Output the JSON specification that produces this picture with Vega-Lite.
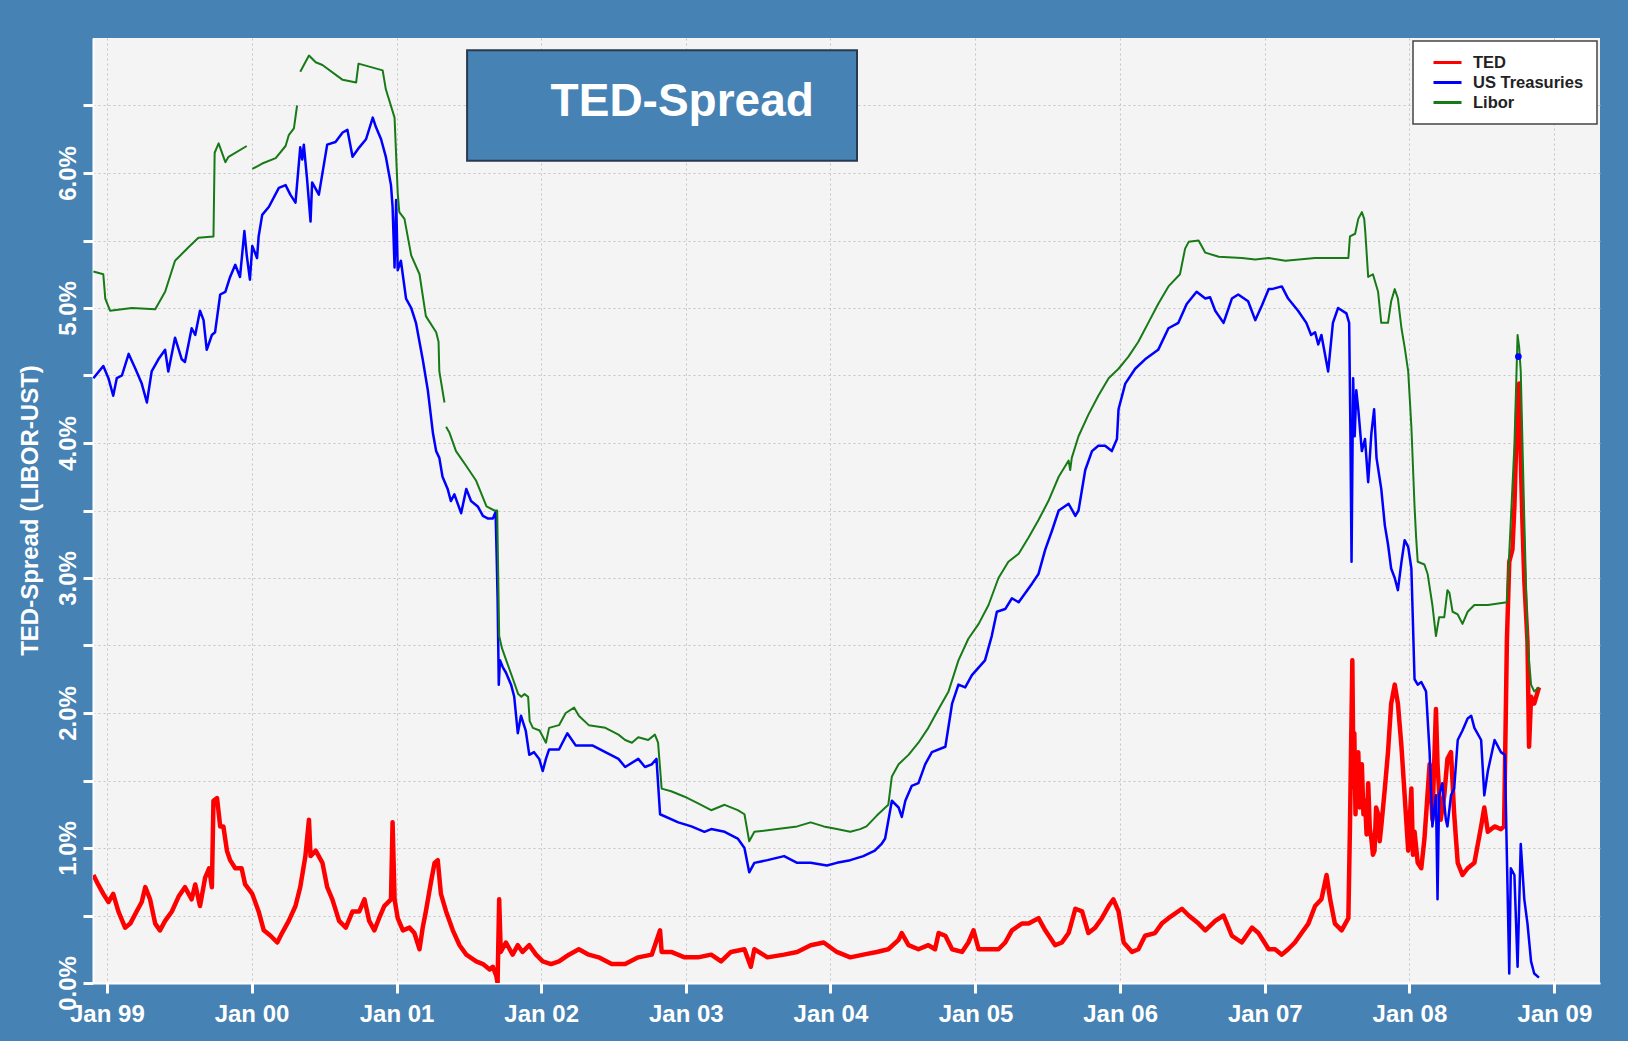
{
  "$schema": "https://vega.github.io/schema/vega-lite/v6.json",
  "width": 1507,
  "height": 945,
  "autosize": {"type": "none"},
  "padding": {"left": 93, "top": 38, "right": 28, "bottom": 58},
  "background": "#4682b4",
  "config": {
    "view": {"fill": "#f4f4f4", "stroke": null},
    "font": "Liberation Sans",
    "axis": {
      "labelFont": "Liberation Sans", "labelFontWeight": "bold", "labelFontSize": 24, "labelColor": "#ffffff",
      "tickColor": "#ffffff", "tickWidth": 3, "tickSize": 10,
      "domainColor": "#ffffff", "domainWidth": 2,
      "gridColor": "#c4c4c4", "gridDash": [2, 3], "gridWidth": 1,
      "titleFont": "Liberation Sans", "titleFontWeight": "bold", "titleFontSize": 24, "titleColor": "#ffffff"
    },
    "legend": {
      "orient": "top-right", "offset": 3, "fillColor": "#ffffff", "strokeColor": "#444444", "strokeWidth": 1.5, "padding": 13,
      "labelFont": "Liberation Sans", "labelFontWeight": "bold", "labelFontSize": 16.5, "labelColor": "#222222",
      "symbolType": "M-2,0L2,0", "symbolSize": 196, "symbolStrokeWidth": 3, "rowPadding": 3,
      "labelOffset": 17, "symbolOffset": 13
    }
  },
  "datasets": {
    "ted": [
      {"date":"1998-11-28","value":0.80,"series":"TED"},{"date":"1998-12-10","value":0.73,"series":"TED"},{"date":"1998-12-23","value":0.66,"series":"TED"},{"date":"1999-01-05","value":0.60,"series":"TED"},{"date":"1999-01-17","value":0.66,"series":"TED"},{"date":"1999-01-30","value":0.53,"series":"TED"},{"date":"1999-02-16","value":0.41,"series":"TED"},{"date":"1999-03-01","value":0.44,"series":"TED"},{"date":"1999-03-17","value":0.53,"series":"TED"},{"date":"1999-03-30","value":0.60,"series":"TED"},{"date":"1999-04-08","value":0.71,"series":"TED"},{"date":"1999-04-20","value":0.62,"series":"TED"},{"date":"1999-05-03","value":0.44,"series":"TED"},{"date":"1999-05-15","value":0.39,"series":"TED"},{"date":"1999-05-28","value":0.46,"series":"TED"},{"date":"1999-06-14","value":0.53,"series":"TED"},{"date":"1999-07-01","value":0.64,"series":"TED"},{"date":"1999-07-17","value":0.71,"series":"TED"},{"date":"1999-08-03","value":0.62,"series":"TED"},{"date":"1999-08-12","value":0.73,"series":"TED"},{"date":"1999-08-24","value":0.57,"series":"TED"},{"date":"1999-09-06","value":0.78,"series":"TED"},{"date":"1999-09-16","value":0.85,"series":"TED"},{"date":"1999-09-23","value":0.71,"series":"TED"},{"date":"1999-09-27","value":1.35,"series":"TED"},{"date":"1999-10-06","value":1.37,"series":"TED"},{"date":"1999-10-14","value":1.16,"series":"TED"},{"date":"1999-10-22","value":1.16,"series":"TED"},{"date":"1999-10-31","value":0.98,"series":"TED"},{"date":"1999-11-08","value":0.91,"series":"TED"},{"date":"1999-11-21","value":0.85,"series":"TED"},{"date":"1999-12-07","value":0.85,"series":"TED"},{"date":"1999-12-16","value":0.73,"series":"TED"},{"date":"2000-01-03","value":0.66,"series":"TED"},{"date":"2000-01-19","value":0.53,"series":"TED"},{"date":"2000-02-01","value":0.39,"series":"TED"},{"date":"2000-02-18","value":0.35,"series":"TED"},{"date":"2000-03-06","value":0.30,"series":"TED"},{"date":"2000-03-18","value":0.37,"series":"TED"},{"date":"2000-04-04","value":0.46,"series":"TED"},{"date":"2000-04-21","value":0.57,"series":"TED"},{"date":"2000-05-03","value":0.71,"series":"TED"},{"date":"2000-05-16","value":0.94,"series":"TED"},{"date":"2000-05-25","value":1.21,"series":"TED"},{"date":"2000-05-29","value":0.94,"series":"TED"},{"date":"2000-06-11","value":0.98,"series":"TED"},{"date":"2000-06-28","value":0.89,"series":"TED"},{"date":"2000-07-10","value":0.71,"series":"TED"},{"date":"2000-07-23","value":0.62,"series":"TED"},{"date":"2000-08-09","value":0.46,"series":"TED"},{"date":"2000-08-26","value":0.41,"series":"TED"},{"date":"2000-09-12","value":0.53,"series":"TED"},{"date":"2000-09-29","value":0.53,"series":"TED"},{"date":"2000-10-12","value":0.62,"series":"TED"},{"date":"2000-10-24","value":0.46,"series":"TED"},{"date":"2000-11-06","value":0.39,"series":"TED"},{"date":"2000-11-18","value":0.48,"series":"TED"},{"date":"2000-12-01","value":0.57,"series":"TED"},{"date":"2000-12-18","value":0.62,"series":"TED"},{"date":"2000-12-22","value":1.19,"series":"TED"},{"date":"2000-12-27","value":0.62,"series":"TED"},{"date":"2001-01-04","value":0.48,"series":"TED"},{"date":"2001-01-17","value":0.39,"series":"TED"},{"date":"2001-02-03","value":0.41,"series":"TED"},{"date":"2001-02-15","value":0.37,"series":"TED"},{"date":"2001-02-28","value":0.25,"series":"TED"},{"date":"2001-03-08","value":0.41,"series":"TED"},{"date":"2001-03-16","value":0.53,"series":"TED"},{"date":"2001-03-29","value":0.75,"series":"TED"},{"date":"2001-04-07","value":0.89,"series":"TED"},{"date":"2001-04-15","value":0.91,"series":"TED"},{"date":"2001-04-23","value":0.66,"series":"TED"},{"date":"2001-05-06","value":0.53,"series":"TED"},{"date":"2001-05-23","value":0.39,"series":"TED"},{"date":"2001-06-09","value":0.28,"series":"TED"},{"date":"2001-06-26","value":0.21,"series":"TED"},{"date":"2001-07-21","value":0.16,"series":"TED"},{"date":"2001-08-07","value":0.14,"series":"TED"},{"date":"2001-08-24","value":0.10,"series":"TED"},{"date":"2001-09-01","value":0.12,"series":"TED"},{"date":"2001-09-10","value":0.05,"series":"TED"},{"date":"2001-09-13","value":0.0,"series":"TED"},{"date":"2001-09-17","value":0.62,"series":"TED"},{"date":"2001-09-21","value":0.23,"series":"TED"},{"date":"2001-10-04","value":0.30,"series":"TED"},{"date":"2001-10-21","value":0.21,"series":"TED"},{"date":"2001-11-03","value":0.28,"series":"TED"},{"date":"2001-11-15","value":0.23,"series":"TED"},{"date":"2001-12-02","value":0.28,"series":"TED"},{"date":"2001-12-19","value":0.21,"series":"TED"},{"date":"2002-01-05","value":0.16,"series":"TED"},{"date":"2002-01-26","value":0.14,"series":"TED"},{"date":"2002-02-15","value":0.16,"series":"TED"},{"date":"2002-03-12","value":0.21,"series":"TED"},{"date":"2002-04-06","value":0.25,"series":"TED"},{"date":"2002-05-01","value":0.21,"series":"TED"},{"date":"2002-05-26","value":0.19,"series":"TED"},{"date":"2002-06-28","value":0.14,"series":"TED"},{"date":"2002-08-01","value":0.14,"series":"TED"},{"date":"2002-09-03","value":0.19,"series":"TED"},{"date":"2002-10-07","value":0.21,"series":"TED"},{"date":"2002-10-28","value":0.39,"series":"TED"},{"date":"2002-11-01","value":0.23,"series":"TED"},{"date":"2002-11-25","value":0.23,"series":"TED"},{"date":"2002-12-29","value":0.19,"series":"TED"},{"date":"2003-02-01","value":0.19,"series":"TED"},{"date":"2003-03-06","value":0.21,"series":"TED"},{"date":"2003-03-31","value":0.16,"series":"TED"},{"date":"2003-04-25","value":0.23,"series":"TED"},{"date":"2003-05-29","value":0.25,"series":"TED"},{"date":"2003-06-14","value":0.12,"series":"TED"},{"date":"2003-06-23","value":0.25,"series":"TED"},{"date":"2003-07-26","value":0.19,"series":"TED"},{"date":"2003-09-06","value":0.21,"series":"TED"},{"date":"2003-10-09","value":0.23,"series":"TED"},{"date":"2003-11-12","value":0.28,"series":"TED"},{"date":"2003-12-15","value":0.30,"series":"TED"},{"date":"2004-01-17","value":0.23,"series":"TED"},{"date":"2004-02-20","value":0.19,"series":"TED"},{"date":"2004-03-24","value":0.21,"series":"TED"},{"date":"2004-04-27","value":0.23,"series":"TED"},{"date":"2004-05-26","value":0.25,"series":"TED"},{"date":"2004-06-21","value":0.32,"series":"TED"},{"date":"2004-06-29","value":0.37,"series":"TED"},{"date":"2004-07-16","value":0.28,"series":"TED"},{"date":"2004-08-10","value":0.25,"series":"TED"},{"date":"2004-09-04","value":0.28,"series":"TED"},{"date":"2004-09-21","value":0.25,"series":"TED"},{"date":"2004-09-30","value":0.37,"series":"TED"},{"date":"2004-10-17","value":0.35,"series":"TED"},{"date":"2004-11-03","value":0.25,"series":"TED"},{"date":"2004-11-28","value":0.23,"series":"TED"},{"date":"2004-12-14","value":0.30,"series":"TED"},{"date":"2004-12-27","value":0.39,"series":"TED"},{"date":"2005-01-09","value":0.25,"series":"TED"},{"date":"2005-02-03","value":0.25,"series":"TED"},{"date":"2005-02-28","value":0.25,"series":"TED"},{"date":"2005-03-17","value":0.30,"series":"TED"},{"date":"2005-04-03","value":0.39,"series":"TED"},{"date":"2005-04-28","value":0.44,"series":"TED"},{"date":"2005-05-15","value":0.44,"series":"TED"},{"date":"2005-06-09","value":0.48,"series":"TED"},{"date":"2005-06-26","value":0.39,"series":"TED"},{"date":"2005-07-21","value":0.28,"series":"TED"},{"date":"2005-08-07","value":0.30,"series":"TED"},{"date":"2005-08-24","value":0.37,"series":"TED"},{"date":"2005-09-10","value":0.55,"series":"TED"},{"date":"2005-09-27","value":0.53,"series":"TED"},{"date":"2005-10-13","value":0.37,"series":"TED"},{"date":"2005-10-30","value":0.41,"series":"TED"},{"date":"2005-11-16","value":0.48,"series":"TED"},{"date":"2005-12-03","value":0.57,"series":"TED"},{"date":"2005-12-15","value":0.62,"series":"TED"},{"date":"2005-12-28","value":0.53,"series":"TED"},{"date":"2006-01-10","value":0.30,"series":"TED"},{"date":"2006-01-31","value":0.23,"series":"TED"},{"date":"2006-02-16","value":0.25,"series":"TED"},{"date":"2006-03-05","value":0.35,"series":"TED"},{"date":"2006-03-30","value":0.37,"series":"TED"},{"date":"2006-04-16","value":0.44,"series":"TED"},{"date":"2006-05-03","value":0.48,"series":"TED"},{"date":"2006-06-06","value":0.55,"series":"TED"},{"date":"2006-06-23","value":0.50,"series":"TED"},{"date":"2006-07-18","value":0.44,"series":"TED"},{"date":"2006-08-04","value":0.39,"series":"TED"},{"date":"2006-08-29","value":0.46,"series":"TED"},{"date":"2006-09-19","value":0.50,"series":"TED"},{"date":"2006-10-10","value":0.35,"series":"TED"},{"date":"2006-11-04","value":0.30,"series":"TED"},{"date":"2006-11-30","value":0.41,"series":"TED"},{"date":"2006-12-16","value":0.37,"series":"TED"},{"date":"2007-01-11","value":0.25,"series":"TED"},{"date":"2007-01-27","value":0.25,"series":"TED"},{"date":"2007-02-13","value":0.21,"series":"TED"},{"date":"2007-03-01","value":0.25,"series":"TED"},{"date":"2007-03-18","value":0.30,"series":"TED"},{"date":"2007-04-04","value":0.37,"series":"TED"},{"date":"2007-04-21","value":0.44,"series":"TED"},{"date":"2007-05-08","value":0.57,"series":"TED"},{"date":"2007-05-24","value":0.62,"series":"TED"},{"date":"2007-06-06","value":0.80,"series":"TED"},{"date":"2007-06-15","value":0.62,"series":"TED"},{"date":"2007-06-27","value":0.44,"series":"TED"},{"date":"2007-07-14","value":0.39,"series":"TED"},{"date":"2007-07-31","value":0.48,"series":"TED"},{"date":"2007-08-04","value":1.16,"series":"TED"},{"date":"2007-08-10","value":2.39,"series":"TED"},{"date":"2007-08-13","value":1.45,"series":"TED"},{"date":"2007-08-15","value":1.85,"series":"TED"},{"date":"2007-08-18","value":1.25,"series":"TED"},{"date":"2007-08-21","value":1.60,"series":"TED"},{"date":"2007-08-25","value":1.71,"series":"TED"},{"date":"2007-08-29","value":1.30,"series":"TED"},{"date":"2007-09-03","value":1.62,"series":"TED"},{"date":"2007-09-07","value":1.25,"series":"TED"},{"date":"2007-09-11","value":1.35,"series":"TED"},{"date":"2007-09-15","value":1.10,"series":"TED"},{"date":"2007-09-19","value":1.48,"series":"TED"},{"date":"2007-09-23","value":1.15,"series":"TED"},{"date":"2007-09-27","value":1.07,"series":"TED"},{"date":"2007-10-01","value":0.95,"series":"TED"},{"date":"2007-10-05","value":0.98,"series":"TED"},{"date":"2007-10-09","value":1.30,"series":"TED"},{"date":"2007-10-14","value":1.25,"series":"TED"},{"date":"2007-10-18","value":1.05,"series":"TED"},{"date":"2007-10-22","value":1.16,"series":"TED"},{"date":"2007-10-31","value":1.44,"series":"TED"},{"date":"2007-11-08","value":1.71,"series":"TED"},{"date":"2007-11-16","value":2.07,"series":"TED"},{"date":"2007-11-25","value":2.21,"series":"TED"},{"date":"2007-12-03","value":2.07,"series":"TED"},{"date":"2007-12-12","value":1.75,"series":"TED"},{"date":"2007-12-20","value":1.39,"series":"TED"},{"date":"2007-12-29","value":0.98,"series":"TED"},{"date":"2008-01-06","value":1.44,"series":"TED"},{"date":"2008-01-10","value":0.95,"series":"TED"},{"date":"2008-01-14","value":1.12,"series":"TED"},{"date":"2008-01-22","value":0.89,"series":"TED"},{"date":"2008-01-31","value":0.85,"series":"TED"},{"date":"2008-02-08","value":1.07,"series":"TED"},{"date":"2008-02-21","value":1.62,"series":"TED"},{"date":"2008-02-28","value":1.21,"series":"TED"},{"date":"2008-03-08","value":2.03,"series":"TED"},{"date":"2008-03-12","value":1.62,"series":"TED"},{"date":"2008-03-20","value":1.21,"series":"TED"},{"date":"2008-03-29","value":1.39,"series":"TED"},{"date":"2008-04-06","value":1.66,"series":"TED"},{"date":"2008-04-15","value":1.71,"series":"TED"},{"date":"2008-04-23","value":1.25,"series":"TED"},{"date":"2008-05-02","value":0.89,"series":"TED"},{"date":"2008-05-14","value":0.80,"series":"TED"},{"date":"2008-05-27","value":0.85,"series":"TED"},{"date":"2008-06-13","value":0.89,"series":"TED"},{"date":"2008-06-30","value":1.16,"series":"TED"},{"date":"2008-07-08","value":1.30,"series":"TED"},{"date":"2008-07-17","value":1.12,"series":"TED"},{"date":"2008-08-03","value":1.16,"series":"TED"},{"date":"2008-08-19","value":1.14,"series":"TED"},{"date":"2008-08-27","value":1.16,"series":"TED"},{"date":"2008-09-03","value":2.53,"series":"TED"},{"date":"2008-09-09","value":3.12,"series":"TED"},{"date":"2008-09-17","value":3.21,"series":"TED"},{"date":"2008-09-22","value":3.53,"series":"TED"},{"date":"2008-09-30","value":4.35,"series":"TED"},{"date":"2008-10-04","value":4.44,"series":"TED"},{"date":"2008-10-08","value":3.89,"series":"TED"},{"date":"2008-10-12","value":3.44,"series":"TED"},{"date":"2008-10-17","value":2.98,"series":"TED"},{"date":"2008-10-25","value":2.53,"series":"TED"},{"date":"2008-10-29","value":1.75,"series":"TED"},{"date":"2008-11-03","value":2.12,"series":"TED"},{"date":"2008-11-11","value":2.07,"series":"TED"},{"date":"2008-11-23","value":2.19,"series":"TED"}
    ],
    "ust": [
      {"date":"1998-11-28","value":4.48,"series":"US Treasuries"},{"date":"1998-12-23","value":4.57,"series":"US Treasuries"},{"date":"1999-01-05","value":4.48,"series":"US Treasuries"},{"date":"1999-01-17","value":4.35,"series":"US Treasuries"},{"date":"1999-01-26","value":4.48,"series":"US Treasuries"},{"date":"1999-02-08","value":4.50,"series":"US Treasuries"},{"date":"1999-02-25","value":4.66,"series":"US Treasuries"},{"date":"1999-03-14","value":4.55,"series":"US Treasuries"},{"date":"1999-03-30","value":4.44,"series":"US Treasuries"},{"date":"1999-04-12","value":4.30,"series":"US Treasuries"},{"date":"1999-04-24","value":4.53,"series":"US Treasuries"},{"date":"1999-05-11","value":4.62,"series":"US Treasuries"},{"date":"1999-05-28","value":4.69,"series":"US Treasuries"},{"date":"1999-06-05","value":4.53,"series":"US Treasuries"},{"date":"1999-06-22","value":4.78,"series":"US Treasuries"},{"date":"1999-07-09","value":4.62,"series":"US Treasuries"},{"date":"1999-07-17","value":4.60,"series":"US Treasuries"},{"date":"1999-08-03","value":4.85,"series":"US Treasuries"},{"date":"1999-08-12","value":4.80,"series":"US Treasuries"},{"date":"1999-08-24","value":4.98,"series":"US Treasuries"},{"date":"1999-09-02","value":4.91,"series":"US Treasuries"},{"date":"1999-09-10","value":4.69,"series":"US Treasuries"},{"date":"1999-09-23","value":4.80,"series":"US Treasuries"},{"date":"1999-10-01","value":4.82,"series":"US Treasuries"},{"date":"1999-10-14","value":5.10,"series":"US Treasuries"},{"date":"1999-10-27","value":5.12,"series":"US Treasuries"},{"date":"1999-11-08","value":5.23,"series":"US Treasuries"},{"date":"1999-11-21","value":5.32,"series":"US Treasuries"},{"date":"1999-12-03","value":5.23,"series":"US Treasuries"},{"date":"1999-12-14","value":5.57,"series":"US Treasuries"},{"date":"1999-12-20","value":5.39,"series":"US Treasuries"},{"date":"1999-12-28","value":5.21,"series":"US Treasuries"},{"date":"2000-01-03","value":5.46,"series":"US Treasuries"},{"date":"2000-01-15","value":5.37,"series":"US Treasuries"},{"date":"2000-01-19","value":5.53,"series":"US Treasuries"},{"date":"2000-01-28","value":5.69,"series":"US Treasuries"},{"date":"2000-02-14","value":5.75,"series":"US Treasuries"},{"date":"2000-03-10","value":5.89,"series":"US Treasuries"},{"date":"2000-03-27","value":5.91,"series":"US Treasuries"},{"date":"2000-04-08","value":5.84,"series":"US Treasuries"},{"date":"2000-04-21","value":5.78,"series":"US Treasuries"},{"date":"2000-05-03","value":6.19,"series":"US Treasuries"},{"date":"2000-05-08","value":6.10,"series":"US Treasuries"},{"date":"2000-05-12","value":6.21,"series":"US Treasuries"},{"date":"2000-05-20","value":5.96,"series":"US Treasuries"},{"date":"2000-05-29","value":5.64,"series":"US Treasuries"},{"date":"2000-06-02","value":5.93,"series":"US Treasuries"},{"date":"2000-06-19","value":5.84,"series":"US Treasuries"},{"date":"2000-07-10","value":6.21,"series":"US Treasuries"},{"date":"2000-07-31","value":6.23,"series":"US Treasuries"},{"date":"2000-08-18","value":6.30,"series":"US Treasuries"},{"date":"2000-08-30","value":6.32,"series":"US Treasuries"},{"date":"2000-09-12","value":6.12,"series":"US Treasuries"},{"date":"2000-09-29","value":6.19,"series":"US Treasuries"},{"date":"2000-10-16","value":6.25,"series":"US Treasuries"},{"date":"2000-11-02","value":6.41,"series":"US Treasuries"},{"date":"2000-11-10","value":6.34,"series":"US Treasuries"},{"date":"2000-11-23","value":6.25,"series":"US Treasuries"},{"date":"2000-12-05","value":6.12,"series":"US Treasuries"},{"date":"2000-12-18","value":5.91,"series":"US Treasuries"},{"date":"2000-12-22","value":5.75,"series":"US Treasuries"},{"date":"2000-12-27","value":5.30,"series":"US Treasuries"},{"date":"2000-12-31","value":5.80,"series":"US Treasuries"},{"date":"2001-01-04","value":5.28,"series":"US Treasuries"},{"date":"2001-01-12","value":5.35,"series":"US Treasuries"},{"date":"2001-01-25","value":5.07,"series":"US Treasuries"},{"date":"2001-02-07","value":5.00,"series":"US Treasuries"},{"date":"2001-02-19","value":4.89,"series":"US Treasuries"},{"date":"2001-03-08","value":4.62,"series":"US Treasuries"},{"date":"2001-03-21","value":4.39,"series":"US Treasuries"},{"date":"2001-04-03","value":4.07,"series":"US Treasuries"},{"date":"2001-04-11","value":3.94,"series":"US Treasuries"},{"date":"2001-04-19","value":3.89,"series":"US Treasuries"},{"date":"2001-04-27","value":3.75,"series":"US Treasuries"},{"date":"2001-05-10","value":3.66,"series":"US Treasuries"},{"date":"2001-05-18","value":3.57,"series":"US Treasuries"},{"date":"2001-05-27","value":3.62,"series":"US Treasuries"},{"date":"2001-06-13","value":3.48,"series":"US Treasuries"},{"date":"2001-06-26","value":3.66,"series":"US Treasuries"},{"date":"2001-07-08","value":3.57,"series":"US Treasuries"},{"date":"2001-07-25","value":3.53,"series":"US Treasuries"},{"date":"2001-08-07","value":3.46,"series":"US Treasuries"},{"date":"2001-08-20","value":3.44,"series":"US Treasuries"},{"date":"2001-09-01","value":3.44,"series":"US Treasuries"},{"date":"2001-09-08","value":3.49,"series":"US Treasuries"},{"date":"2001-09-11","value":3.12,"series":"US Treasuries"},{"date":"2001-09-13","value":2.85,"series":"US Treasuries"},{"date":"2001-09-16","value":2.21,"series":"US Treasuries"},{"date":"2001-09-19","value":2.39,"series":"US Treasuries"},{"date":"2001-09-26","value":2.34,"series":"US Treasuries"},{"date":"2001-10-04","value":2.30,"series":"US Treasuries"},{"date":"2001-10-17","value":2.21,"series":"US Treasuries"},{"date":"2001-10-25","value":2.12,"series":"US Treasuries"},{"date":"2001-11-03","value":1.85,"series":"US Treasuries"},{"date":"2001-11-11","value":1.98,"series":"US Treasuries"},{"date":"2001-11-23","value":1.87,"series":"US Treasuries"},{"date":"2001-12-02","value":1.69,"series":"US Treasuries"},{"date":"2001-12-14","value":1.71,"series":"US Treasuries"},{"date":"2001-12-27","value":1.66,"series":"US Treasuries"},{"date":"2002-01-05","value":1.57,"series":"US Treasuries"},{"date":"2002-01-13","value":1.66,"series":"US Treasuries"},{"date":"2002-01-21","value":1.73,"series":"US Treasuries"},{"date":"2002-02-15","value":1.73,"series":"US Treasuries"},{"date":"2002-03-08","value":1.85,"series":"US Treasuries"},{"date":"2002-03-29","value":1.76,"series":"US Treasuries"},{"date":"2002-05-10","value":1.76,"series":"US Treasuries"},{"date":"2002-06-12","value":1.71,"series":"US Treasuries"},{"date":"2002-07-15","value":1.66,"series":"US Treasuries"},{"date":"2002-08-01","value":1.60,"series":"US Treasuries"},{"date":"2002-09-03","value":1.66,"series":"US Treasuries"},{"date":"2002-09-20","value":1.60,"series":"US Treasuries"},{"date":"2002-10-07","value":1.62,"series":"US Treasuries"},{"date":"2002-10-19","value":1.66,"series":"US Treasuries"},{"date":"2002-10-28","value":1.25,"series":"US Treasuries"},{"date":"2002-12-13","value":1.19,"series":"US Treasuries"},{"date":"2003-01-15","value":1.16,"series":"US Treasuries"},{"date":"2003-02-17","value":1.12,"series":"US Treasuries"},{"date":"2003-03-06","value":1.14,"series":"US Treasuries"},{"date":"2003-04-09","value":1.12,"series":"US Treasuries"},{"date":"2003-05-12","value":1.07,"series":"US Treasuries"},{"date":"2003-05-29","value":1.00,"series":"US Treasuries"},{"date":"2003-06-10","value":0.82,"series":"US Treasuries"},{"date":"2003-06-23","value":0.89,"series":"US Treasuries"},{"date":"2003-07-26","value":0.91,"series":"US Treasuries"},{"date":"2003-09-06","value":0.94,"series":"US Treasuries"},{"date":"2003-10-09","value":0.89,"series":"US Treasuries"},{"date":"2003-11-12","value":0.89,"series":"US Treasuries"},{"date":"2003-12-23","value":0.87,"series":"US Treasuries"},{"date":"2004-01-17","value":0.89,"series":"US Treasuries"},{"date":"2004-02-20","value":0.91,"series":"US Treasuries"},{"date":"2004-03-24","value":0.94,"series":"US Treasuries"},{"date":"2004-04-22","value":0.98,"series":"US Treasuries"},{"date":"2004-05-09","value":1.03,"series":"US Treasuries"},{"date":"2004-05-18","value":1.07,"series":"US Treasuries"},{"date":"2004-06-04","value":1.35,"series":"US Treasuries"},{"date":"2004-06-21","value":1.30,"series":"US Treasuries"},{"date":"2004-06-29","value":1.23,"series":"US Treasuries"},{"date":"2004-07-08","value":1.35,"series":"US Treasuries"},{"date":"2004-07-24","value":1.46,"series":"US Treasuries"},{"date":"2004-08-10","value":1.48,"series":"US Treasuries"},{"date":"2004-08-27","value":1.62,"series":"US Treasuries"},{"date":"2004-09-13","value":1.71,"series":"US Treasuries"},{"date":"2004-10-17","value":1.75,"series":"US Treasuries"},{"date":"2004-11-03","value":2.07,"series":"US Treasuries"},{"date":"2004-11-19","value":2.21,"series":"US Treasuries"},{"date":"2004-12-06","value":2.19,"series":"US Treasuries"},{"date":"2004-12-23","value":2.28,"series":"US Treasuries"},{"date":"2005-01-25","value":2.39,"series":"US Treasuries"},{"date":"2005-02-11","value":2.57,"series":"US Treasuries"},{"date":"2005-02-24","value":2.75,"series":"US Treasuries"},{"date":"2005-03-17","value":2.77,"series":"US Treasuries"},{"date":"2005-04-03","value":2.85,"series":"US Treasuries"},{"date":"2005-04-20","value":2.82,"series":"US Treasuries"},{"date":"2005-05-24","value":2.96,"series":"US Treasuries"},{"date":"2005-06-09","value":3.03,"series":"US Treasuries"},{"date":"2005-06-26","value":3.21,"series":"US Treasuries"},{"date":"2005-07-13","value":3.35,"series":"US Treasuries"},{"date":"2005-07-30","value":3.50,"series":"US Treasuries"},{"date":"2005-08-24","value":3.55,"series":"US Treasuries"},{"date":"2005-09-10","value":3.46,"series":"US Treasuries"},{"date":"2005-09-18","value":3.50,"series":"US Treasuries"},{"date":"2005-10-05","value":3.80,"series":"US Treasuries"},{"date":"2005-10-22","value":3.94,"series":"US Treasuries"},{"date":"2005-11-07","value":3.98,"series":"US Treasuries"},{"date":"2005-11-24","value":3.98,"series":"US Treasuries"},{"date":"2005-12-11","value":3.94,"series":"US Treasuries"},{"date":"2005-12-24","value":4.03,"series":"US Treasuries"},{"date":"2005-12-28","value":4.25,"series":"US Treasuries"},{"date":"2006-01-14","value":4.44,"series":"US Treasuries"},{"date":"2006-02-08","value":4.55,"series":"US Treasuries"},{"date":"2006-03-05","value":4.62,"series":"US Treasuries"},{"date":"2006-04-07","value":4.69,"series":"US Treasuries"},{"date":"2006-05-03","value":4.85,"series":"US Treasuries"},{"date":"2006-05-28","value":4.89,"series":"US Treasuries"},{"date":"2006-06-18","value":5.03,"series":"US Treasuries"},{"date":"2006-07-13","value":5.12,"series":"US Treasuries"},{"date":"2006-08-04","value":5.07,"series":"US Treasuries"},{"date":"2006-08-16","value":5.08,"series":"US Treasuries"},{"date":"2006-08-29","value":4.98,"series":"US Treasuries"},{"date":"2006-09-19","value":4.89,"series":"US Treasuries"},{"date":"2006-10-10","value":5.07,"series":"US Treasuries"},{"date":"2006-10-26","value":5.10,"series":"US Treasuries"},{"date":"2006-11-20","value":5.05,"series":"US Treasuries"},{"date":"2006-12-08","value":4.91,"series":"US Treasuries"},{"date":"2006-12-25","value":5.02,"series":"US Treasuries"},{"date":"2007-01-11","value":5.14,"series":"US Treasuries"},{"date":"2007-01-19","value":5.14,"series":"US Treasuries"},{"date":"2007-02-13","value":5.16,"series":"US Treasuries"},{"date":"2007-03-01","value":5.07,"series":"US Treasuries"},{"date":"2007-03-26","value":4.98,"series":"US Treasuries"},{"date":"2007-04-16","value":4.89,"series":"US Treasuries"},{"date":"2007-04-28","value":4.80,"series":"US Treasuries"},{"date":"2007-05-08","value":4.82,"series":"US Treasuries"},{"date":"2007-05-16","value":4.73,"series":"US Treasuries"},{"date":"2007-05-24","value":4.80,"series":"US Treasuries"},{"date":"2007-06-10","value":4.53,"series":"US Treasuries"},{"date":"2007-06-22","value":4.89,"series":"US Treasuries"},{"date":"2007-07-05","value":5.00,"series":"US Treasuries"},{"date":"2007-07-26","value":4.96,"series":"US Treasuries"},{"date":"2007-08-02","value":4.89,"series":"US Treasuries"},{"date":"2007-08-05","value":4.12,"series":"US Treasuries"},{"date":"2007-08-08","value":3.12,"series":"US Treasuries"},{"date":"2007-08-12","value":4.48,"series":"US Treasuries"},{"date":"2007-08-16","value":4.05,"series":"US Treasuries"},{"date":"2007-08-20","value":4.39,"series":"US Treasuries"},{"date":"2007-08-25","value":4.25,"series":"US Treasuries"},{"date":"2007-09-03","value":3.94,"series":"US Treasuries"},{"date":"2007-09-11","value":4.03,"series":"US Treasuries"},{"date":"2007-09-19","value":3.71,"series":"US Treasuries"},{"date":"2007-09-27","value":4.07,"series":"US Treasuries"},{"date":"2007-10-04","value":4.25,"series":"US Treasuries"},{"date":"2007-10-10","value":3.89,"series":"US Treasuries"},{"date":"2007-10-22","value":3.66,"series":"US Treasuries"},{"date":"2007-10-31","value":3.39,"series":"US Treasuries"},{"date":"2007-11-08","value":3.25,"series":"US Treasuries"},{"date":"2007-11-16","value":3.07,"series":"US Treasuries"},{"date":"2007-11-25","value":3.00,"series":"US Treasuries"},{"date":"2007-12-03","value":2.91,"series":"US Treasuries"},{"date":"2007-12-12","value":3.12,"series":"US Treasuries"},{"date":"2007-12-20","value":3.28,"series":"US Treasuries"},{"date":"2007-12-29","value":3.23,"series":"US Treasuries"},{"date":"2008-01-06","value":3.07,"series":"US Treasuries"},{"date":"2008-01-14","value":2.25,"series":"US Treasuries"},{"date":"2008-01-22","value":2.21,"series":"US Treasuries"},{"date":"2008-01-31","value":2.23,"series":"US Treasuries"},{"date":"2008-02-12","value":2.16,"series":"US Treasuries"},{"date":"2008-02-21","value":1.71,"series":"US Treasuries"},{"date":"2008-02-28","value":1.16,"series":"US Treasuries"},{"date":"2008-03-08","value":1.39,"series":"US Treasuries"},{"date":"2008-03-12","value":0.62,"series":"US Treasuries"},{"date":"2008-03-16","value":1.39,"series":"US Treasuries"},{"date":"2008-03-24","value":1.48,"series":"US Treasuries"},{"date":"2008-04-02","value":1.21,"series":"US Treasuries"},{"date":"2008-04-06","value":1.16,"series":"US Treasuries"},{"date":"2008-04-15","value":1.39,"series":"US Treasuries"},{"date":"2008-04-23","value":1.44,"series":"US Treasuries"},{"date":"2008-05-02","value":1.80,"series":"US Treasuries"},{"date":"2008-05-14","value":1.87,"series":"US Treasuries"},{"date":"2008-05-27","value":1.96,"series":"US Treasuries"},{"date":"2008-06-05","value":1.98,"series":"US Treasuries"},{"date":"2008-06-13","value":1.89,"series":"US Treasuries"},{"date":"2008-06-30","value":1.80,"series":"US Treasuries"},{"date":"2008-07-08","value":1.39,"series":"US Treasuries"},{"date":"2008-07-17","value":1.57,"series":"US Treasuries"},{"date":"2008-08-03","value":1.80,"series":"US Treasuries"},{"date":"2008-08-19","value":1.71,"series":"US Treasuries"},{"date":"2008-08-29","value":1.69,"series":"US Treasuries"},{"date":"2008-09-03","value":0.94,"series":"US Treasuries"},{"date":"2008-09-09","value":0.07,"series":"US Treasuries"},{"date":"2008-09-13","value":0.85,"series":"US Treasuries"},{"date":"2008-09-22","value":0.80,"series":"US Treasuries"},{"date":"2008-09-30","value":0.12,"series":"US Treasuries"},{"date":"2008-10-08","value":1.03,"series":"US Treasuries"},{"date":"2008-10-17","value":0.62,"series":"US Treasuries"},{"date":"2008-10-25","value":0.44,"series":"US Treasuries"},{"date":"2008-11-03","value":0.16,"series":"US Treasuries"},{"date":"2008-11-11","value":0.07,"series":"US Treasuries"},{"date":"2008-11-23","value":0.04,"series":"US Treasuries"}
    ],
    "libor": [
      {"date":"1998-11-28","value":5.27,"series":"Libor","seg":1},{"date":"1998-12-23","value":5.25,"series":"Libor","seg":1},{"date":"1998-12-28","value":5.07,"series":"Libor","seg":1},{"date":"1999-01-09","value":4.98,"series":"Libor","seg":1},{"date":"1999-03-05","value":5.00,"series":"Libor","seg":1},{"date":"1999-05-03","value":4.99,"series":"Libor","seg":1},{"date":"1999-05-28","value":5.12,"series":"Libor","seg":1},{"date":"1999-06-22","value":5.35,"series":"Libor","seg":1},{"date":"1999-07-26","value":5.45,"series":"Libor","seg":1},{"date":"1999-08-20","value":5.52,"series":"Libor","seg":1},{"date":"1999-09-27","value":5.53,"series":"Libor","seg":1},{"date":"1999-09-30","value":6.15,"series":"Libor","seg":1},{"date":"1999-10-10","value":6.22,"series":"Libor","seg":1},{"date":"1999-10-27","value":6.08,"series":"Libor","seg":1},{"date":"1999-11-04","value":6.12,"series":"Libor","seg":1},{"date":"1999-12-20","value":6.20,"series":"Libor","seg":1},
      {"date":"2000-01-03","value":6.03,"series":"Libor","seg":2},{"date":"2000-01-28","value":6.07,"series":"Libor","seg":2},{"date":"2000-03-02","value":6.11,"series":"Libor","seg":2},{"date":"2000-03-27","value":6.20,"series":"Libor","seg":2},{"date":"2000-04-04","value":6.28,"series":"Libor","seg":2},{"date":"2000-04-17","value":6.33,"series":"Libor","seg":2},{"date":"2000-04-25","value":6.50,"series":"Libor","seg":2},
      {"date":"2000-05-03","value":6.75,"series":"Libor","seg":3},{"date":"2000-05-25","value":6.87,"series":"Libor","seg":3},{"date":"2000-06-11","value":6.82,"series":"Libor","seg":3},{"date":"2000-06-28","value":6.80,"series":"Libor","seg":3},{"date":"2000-08-18","value":6.69,"series":"Libor","seg":3},{"date":"2000-09-21","value":6.67,"series":"Libor","seg":3},{"date":"2000-09-27","value":6.81,"series":"Libor","seg":3},{"date":"2000-11-27","value":6.76,"series":"Libor","seg":3},{"date":"2000-12-05","value":6.62,"series":"Libor","seg":3},{"date":"2000-12-27","value":6.41,"series":"Libor","seg":3},{"date":"2001-01-04","value":5.85,"series":"Libor","seg":3},{"date":"2001-01-08","value":5.71,"series":"Libor","seg":3},{"date":"2001-01-21","value":5.66,"series":"Libor","seg":3},{"date":"2001-02-07","value":5.39,"series":"Libor","seg":3},{"date":"2001-02-28","value":5.25,"series":"Libor","seg":3},{"date":"2001-03-16","value":4.94,"series":"Libor","seg":3},{"date":"2001-04-11","value":4.82,"series":"Libor","seg":3},{"date":"2001-04-17","value":4.75,"series":"Libor","seg":3},{"date":"2001-04-19","value":4.53,"series":"Libor","seg":3},{"date":"2001-05-02","value":4.30,"series":"Libor","seg":3},
      {"date":"2001-05-06","value":4.12,"series":"Libor","seg":4},{"date":"2001-05-14","value":4.08,"series":"Libor","seg":4},{"date":"2001-05-31","value":3.94,"series":"Libor","seg":4},{"date":"2001-06-26","value":3.83,"series":"Libor","seg":4},{"date":"2001-07-21","value":3.72,"series":"Libor","seg":4},{"date":"2001-08-16","value":3.53,"series":"Libor","seg":4},{"date":"2001-09-05","value":3.50,"series":"Libor","seg":4},{"date":"2001-09-12","value":3.50,"series":"Libor","seg":4},{"date":"2001-09-17","value":2.57,"series":"Libor","seg":4},{"date":"2001-09-24","value":2.48,"series":"Libor","seg":4},{"date":"2001-10-06","value":2.38,"series":"Libor","seg":4},{"date":"2001-10-22","value":2.25,"series":"Libor","seg":4},{"date":"2001-11-04","value":2.14,"series":"Libor","seg":4},{"date":"2001-11-12","value":2.12,"series":"Libor","seg":4},{"date":"2001-11-20","value":2.14,"series":"Libor","seg":4},{"date":"2001-11-29","value":2.12,"series":"Libor","seg":4},{"date":"2001-12-03","value":1.94,"series":"Libor","seg":4},{"date":"2001-12-11","value":1.89,"series":"Libor","seg":4},{"date":"2001-12-28","value":1.87,"series":"Libor","seg":4},{"date":"2002-01-13","value":1.78,"series":"Libor","seg":4},{"date":"2002-01-21","value":1.89,"series":"Libor","seg":4},{"date":"2002-02-15","value":1.91,"series":"Libor","seg":4},{"date":"2002-03-04","value":2.00,"series":"Libor","seg":4},{"date":"2002-03-25","value":2.04,"series":"Libor","seg":4},{"date":"2002-04-06","value":1.98,"series":"Libor","seg":4},{"date":"2002-05-01","value":1.91,"series":"Libor","seg":4},{"date":"2002-06-12","value":1.89,"series":"Libor","seg":4},{"date":"2002-07-15","value":1.84,"series":"Libor","seg":4},{"date":"2002-08-01","value":1.80,"series":"Libor","seg":4},{"date":"2002-08-18","value":1.78,"series":"Libor","seg":4},{"date":"2002-09-03","value":1.82,"series":"Libor","seg":4},{"date":"2002-09-28","value":1.80,"series":"Libor","seg":4},{"date":"2002-10-15","value":1.84,"series":"Libor","seg":4},{"date":"2002-10-23","value":1.78,"series":"Libor","seg":4},{"date":"2002-11-01","value":1.44,"series":"Libor","seg":4},{"date":"2002-11-25","value":1.42,"series":"Libor","seg":4},{"date":"2002-12-29","value":1.38,"series":"Libor","seg":4},{"date":"2003-02-01","value":1.33,"series":"Libor","seg":4},{"date":"2003-03-06","value":1.28,"series":"Libor","seg":4},{"date":"2003-04-09","value":1.32,"series":"Libor","seg":4},{"date":"2003-05-12","value":1.28,"series":"Libor","seg":4},{"date":"2003-05-29","value":1.25,"series":"Libor","seg":4},{"date":"2003-06-10","value":1.05,"series":"Libor","seg":4},{"date":"2003-06-23","value":1.12,"series":"Libor","seg":4},{"date":"2003-08-20","value":1.14,"series":"Libor","seg":4},{"date":"2003-10-09","value":1.16,"series":"Libor","seg":4},{"date":"2003-11-12","value":1.19,"series":"Libor","seg":4},{"date":"2003-12-15","value":1.16,"series":"Libor","seg":4},{"date":"2004-01-17","value":1.14,"series":"Libor","seg":4},{"date":"2004-02-20","value":1.12,"series":"Libor","seg":4},{"date":"2004-03-16","value":1.14,"series":"Libor","seg":4},{"date":"2004-04-01","value":1.16,"series":"Libor","seg":4},{"date":"2004-04-27","value":1.24,"series":"Libor","seg":4},{"date":"2004-05-26","value":1.32,"series":"Libor","seg":4},{"date":"2004-06-04","value":1.53,"series":"Libor","seg":4},{"date":"2004-06-21","value":1.62,"series":"Libor","seg":4},{"date":"2004-07-16","value":1.69,"series":"Libor","seg":4},{"date":"2004-08-10","value":1.78,"series":"Libor","seg":4},{"date":"2004-09-04","value":1.89,"series":"Libor","seg":4},{"date":"2004-09-30","value":2.03,"series":"Libor","seg":4},{"date":"2004-10-25","value":2.16,"series":"Libor","seg":4},{"date":"2004-11-19","value":2.39,"series":"Libor","seg":4},{"date":"2004-12-14","value":2.55,"series":"Libor","seg":4},{"date":"2005-01-09","value":2.66,"series":"Libor","seg":4},{"date":"2005-02-03","value":2.80,"series":"Libor","seg":4},{"date":"2005-02-28","value":3.00,"series":"Libor","seg":4},{"date":"2005-03-25","value":3.12,"series":"Libor","seg":4},{"date":"2005-04-20","value":3.18,"series":"Libor","seg":4},{"date":"2005-05-15","value":3.30,"series":"Libor","seg":4},{"date":"2005-06-09","value":3.43,"series":"Libor","seg":4},{"date":"2005-07-04","value":3.57,"series":"Libor","seg":4},{"date":"2005-07-30","value":3.75,"series":"Libor","seg":4},{"date":"2005-08-24","value":3.87,"series":"Libor","seg":4},{"date":"2005-08-28","value":3.80,"series":"Libor","seg":4},{"date":"2005-09-01","value":3.89,"series":"Libor","seg":4},{"date":"2005-09-18","value":4.05,"series":"Libor","seg":4},{"date":"2005-10-13","value":4.21,"series":"Libor","seg":4},{"date":"2005-11-07","value":4.35,"series":"Libor","seg":4},{"date":"2005-12-03","value":4.48,"series":"Libor","seg":4},{"date":"2005-12-28","value":4.55,"series":"Libor","seg":4},{"date":"2006-01-22","value":4.64,"series":"Libor","seg":4},{"date":"2006-02-16","value":4.75,"series":"Libor","seg":4},{"date":"2006-03-13","value":4.89,"series":"Libor","seg":4},{"date":"2006-04-07","value":5.03,"series":"Libor","seg":4},{"date":"2006-05-03","value":5.16,"series":"Libor","seg":4},{"date":"2006-06-01","value":5.25,"series":"Libor","seg":4},{"date":"2006-06-14","value":5.44,"series":"Libor","seg":4},{"date":"2006-06-23","value":5.49,"series":"Libor","seg":4},{"date":"2006-07-18","value":5.50,"series":"Libor","seg":4},{"date":"2006-08-04","value":5.41,"series":"Libor","seg":4},{"date":"2006-09-07","value":5.38,"series":"Libor","seg":4},{"date":"2006-11-04","value":5.37,"series":"Libor","seg":4},{"date":"2006-12-08","value":5.36,"series":"Libor","seg":4},{"date":"2007-01-11","value":5.37,"series":"Libor","seg":4},{"date":"2007-02-22","value":5.35,"series":"Libor","seg":4},{"date":"2007-05-08","value":5.37,"series":"Libor","seg":4},{"date":"2007-07-31","value":5.37,"series":"Libor","seg":4},{"date":"2007-08-04","value":5.53,"series":"Libor","seg":4},{"date":"2007-08-17","value":5.55,"series":"Libor","seg":4},{"date":"2007-08-25","value":5.66,"series":"Libor","seg":4},{"date":"2007-09-03","value":5.71,"series":"Libor","seg":4},{"date":"2007-09-09","value":5.66,"series":"Libor","seg":4},{"date":"2007-09-12","value":5.55,"series":"Libor","seg":4},{"date":"2007-09-19","value":5.23,"series":"Libor","seg":4},{"date":"2007-10-01","value":5.25,"series":"Libor","seg":4},{"date":"2007-10-14","value":5.12,"series":"Libor","seg":4},{"date":"2007-10-22","value":4.89,"series":"Libor","seg":4},{"date":"2007-11-08","value":4.89,"series":"Libor","seg":4},{"date":"2007-11-16","value":5.05,"series":"Libor","seg":4},{"date":"2007-11-25","value":5.14,"series":"Libor","seg":4},{"date":"2007-12-03","value":5.07,"series":"Libor","seg":4},{"date":"2007-12-12","value":4.85,"series":"Libor","seg":4},{"date":"2007-12-20","value":4.71,"series":"Libor","seg":4},{"date":"2007-12-29","value":4.53,"series":"Libor","seg":4},{"date":"2008-01-06","value":4.12,"series":"Libor","seg":4},{"date":"2008-01-14","value":3.53,"series":"Libor","seg":4},{"date":"2008-01-18","value":3.30,"series":"Libor","seg":4},{"date":"2008-01-22","value":3.12,"series":"Libor","seg":4},{"date":"2008-02-08","value":3.10,"series":"Libor","seg":4},{"date":"2008-02-16","value":3.03,"series":"Libor","seg":4},{"date":"2008-02-28","value":2.80,"series":"Libor","seg":4},{"date":"2008-03-08","value":2.57,"series":"Libor","seg":4},{"date":"2008-03-16","value":2.71,"series":"Libor","seg":4},{"date":"2008-03-29","value":2.71,"series":"Libor","seg":4},{"date":"2008-04-06","value":2.91,"series":"Libor","seg":4},{"date":"2008-04-11","value":2.89,"series":"Libor","seg":4},{"date":"2008-04-19","value":2.75,"series":"Libor","seg":4},{"date":"2008-05-02","value":2.73,"series":"Libor","seg":4},{"date":"2008-05-14","value":2.66,"series":"Libor","seg":4},{"date":"2008-05-27","value":2.75,"series":"Libor","seg":4},{"date":"2008-06-13","value":2.80,"series":"Libor","seg":4},{"date":"2008-07-17","value":2.80,"series":"Libor","seg":4},{"date":"2008-09-03","value":2.82,"series":"Libor","seg":4},{"date":"2008-09-13","value":3.43,"series":"Libor","seg":4},{"date":"2008-09-22","value":3.98,"series":"Libor","seg":4},{"date":"2008-09-30","value":4.80,"series":"Libor","seg":4},{"date":"2008-10-04","value":4.71,"series":"Libor","seg":4},{"date":"2008-10-08","value":4.53,"series":"Libor","seg":4},{"date":"2008-10-17","value":3.43,"series":"Libor","seg":4},{"date":"2008-10-25","value":2.53,"series":"Libor","seg":4},{"date":"2008-11-03","value":2.21,"series":"Libor","seg":4},{"date":"2008-11-11","value":2.16,"series":"Libor","seg":4},{"date":"2008-11-23","value":2.19,"series":"Libor","seg":4}
    ],
    "marker": [{"date": "2008-10-02", "value": 4.64}],
    "titlebox": [{"start": "2001-06-28", "end": "2004-03-08", "low": 6.09, "high": 6.91}],
    "titletext": [{"date": "2002-12-23", "value": 6.42, "label": "TED-Spread"}]
  },
  "layer": [
    {
      "data": {"name": "ted"},
      "mark": {"type": "line", "strokeWidth": 4.5, "strokeJoin": "round", "clip": true},
      "encoding": {
        "x": {
          "field": "date", "type": "temporal", "title": null,
          "scale": {"type": "utc", "domain": [{"year": 1998, "month": 11, "date": 27, "utc": true}, {"year": 2009, "month": 4, "date": 26, "utc": true}]},
          "axis": {"format": "%b %y", "tickCount": {"interval": "year", "step": 1}, "labelPadding": 9, "labelFlush": false, "labelOverlap": false, "grid": true, "domain": true}
        },
        "y": {
          "field": "value", "type": "quantitative", "title": "TED-Spread (LIBOR-UST)",
          "scale": {"domain": [0, 7], "nice": false, "zero": true},
          "axis": {
            "values": [0, 0.5, 1, 1.5, 2, 2.5, 3, 3.5, 4, 4.5, 5, 5.5, 6, 6.5],
            "labelExpr": "datum.value % 1 == 0 ? format(datum.value, '.1f') + '%' : ''",
            "labelAngle": -90, "labelAlign": "center", "labelBaseline": "alphabetic", "labelPadding": 8,
            "titleAngle": -90, "titleX": -63, "titleY": 472, "titleAlign": "center", "titleBaseline": "middle",
            "grid": true, "domain": true
          }
        },
        "color": {
          "field": "series", "type": "nominal",
          "scale": {"domain": ["TED", "US Treasuries", "Libor"], "range": ["#ff0000", "#0000ff", "#177a17"]},
          "legend": {"title": null}
        }
      }
    },
    {
      "data": {"name": "ust"},
      "mark": {"type": "line", "strokeWidth": 2.5, "strokeJoin": "round", "clip": true},
      "encoding": {
        "x": {"field": "date", "type": "temporal", "title": null},
        "y": {"field": "value", "type": "quantitative", "title": "TED-Spread (LIBOR-UST)"},
        "color": {"field": "series", "type": "nominal", "legend": {"title": null}}
      }
    },
    {
      "data": {"name": "libor"},
      "mark": {"type": "line", "strokeWidth": 2, "strokeJoin": "round", "clip": true},
      "encoding": {
        "x": {"field": "date", "type": "temporal", "title": null},
        "y": {"field": "value", "type": "quantitative", "title": "TED-Spread (LIBOR-UST)"},
        "detail": {"field": "seg", "type": "nominal"},
        "color": {"field": "series", "type": "nominal", "legend": {"title": null}}
      }
    },
    {
      "data": {"name": "marker"},
      "mark": {"type": "point", "filled": true, "color": "#0000ff", "size": 45, "opacity": 1},
      "encoding": {
        "x": {"field": "date", "type": "temporal", "title": null},
        "y": {"field": "value", "type": "quantitative", "title": "TED-Spread (LIBOR-UST)"}
      }
    },
    {
      "data": {"name": "titlebox"},
      "mark": {"type": "rect", "fill": "#4682b4", "stroke": "#2a3a4e", "strokeWidth": 2},
      "encoding": {
        "x": {"field": "start", "type": "temporal", "title": null},
        "x2": {"field": "end"},
        "y": {"field": "low", "type": "quantitative", "title": "TED-Spread (LIBOR-UST)"},
        "y2": {"field": "high"}
      }
    },
    {
      "data": {"name": "titletext"},
      "mark": {"type": "text", "font": "Liberation Sans", "fontSize": 46, "fontWeight": "bold", "color": "#ffffff", "align": "center", "baseline": "alphabetic"},
      "encoding": {
        "x": {"field": "date", "type": "temporal", "title": null},
        "y": {"field": "value", "type": "quantitative", "title": "TED-Spread (LIBOR-UST)"},
        "text": {"field": "label"}
      }
    }
  ]
}
